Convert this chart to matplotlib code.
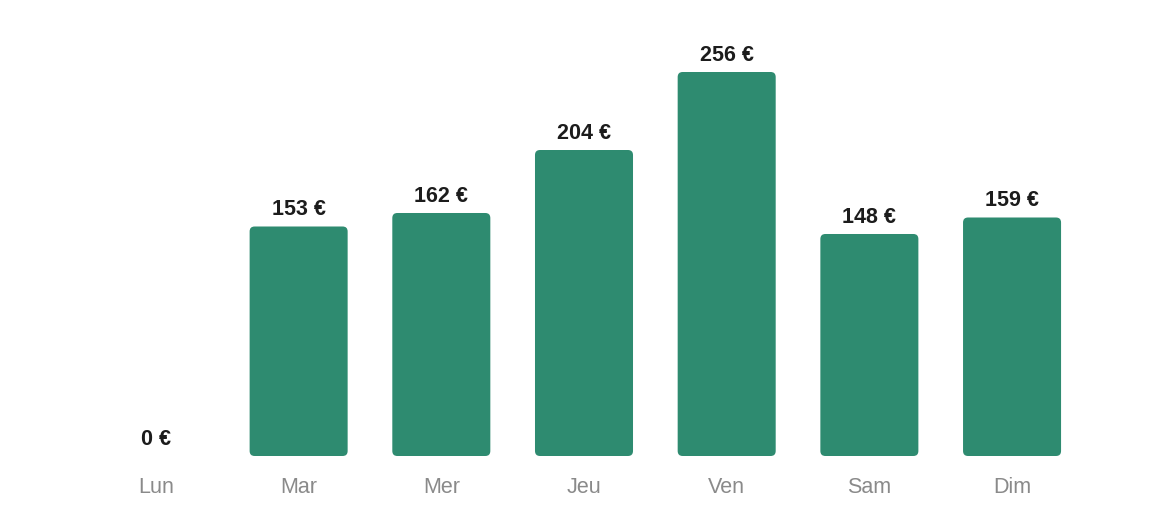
import matplotlib
matplotlib.use('Agg')
import matplotlib.pyplot as plt
from matplotlib.patches import FancyBboxPatch
from matplotlib.transforms import offset_copy

days = ['Lun', 'Mar', 'Mer', 'Jeu', 'Ven', 'Sam', 'Dim']
amounts = [0, 153, 162, 204, 256, 148, 159]

bar_color = '#2e8b70'
text_dark = '#1c1c1c'
text_gray = '#8a8a8a'

plt.rcParams['font.family'] = ['Liberation Sans', 'DejaVu Sans']

def main():
    fig = plt.figure(figsize=(11.68, 5.32), dpi=100)
    ax = fig.add_axes([0, 0, 1, 1])
    ax.set_xlim(-1.093, 7.093)
    ax.set_ylim(-50.67, 304)
    ax.axis('off')

    w = 0.687
    r = 5 / 142.67          # corner radius in x units (~5 px)
    aspect = (5 / 1.5) / r  # y units per x unit for the same pixel radius
    up = offset_copy(ax.transData, fig=fig, x=0, y=4.5, units='points')
    down = offset_copy(ax.transData, fig=fig, x=0, y=-22.5, units='points')
    for i, v in enumerate(amounts):
        if v > 0:
            ax.add_patch(FancyBboxPatch((i - w / 2, 0), w, v,
                                        boxstyle=f'round,pad=0,rounding_size={r}',
                                        mutation_aspect=aspect,
                                        facecolor=bar_color, edgecolor='none'))
        ax.text(i, v, f'{v} €', ha='center', va='bottom', transform=up,
                fontsize=15.5, fontweight='bold', color=text_dark)
        ax.text(i, 0, days[i], ha='center', va='center', transform=down,
                fontsize=15.5, color=text_gray)

    fig.savefig('out.png', dpi=100, facecolor='white')

if __name__ == '__main__':
    main()
